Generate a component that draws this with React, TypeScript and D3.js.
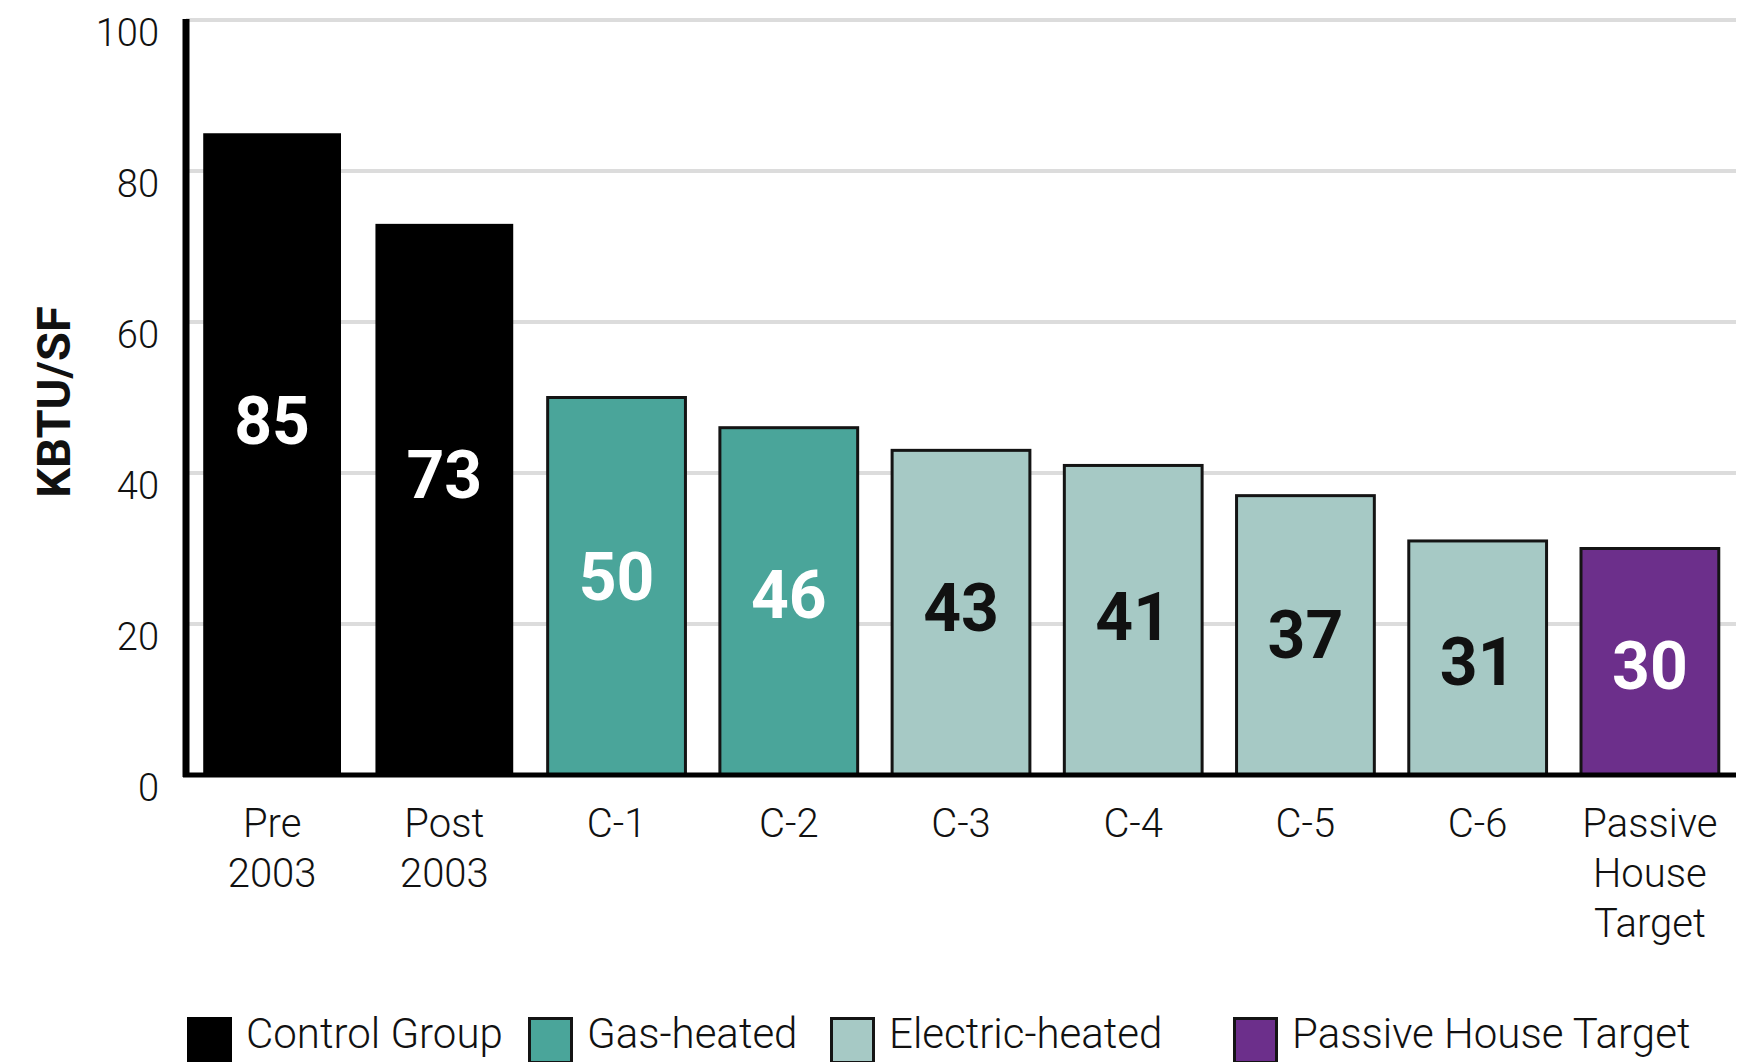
import React from 'react';
import * as d3 from 'd3';

const categories = ['Pre 2003', 'Post 2003', 'C-1', 'C-2', 'C-3', 'C-4', 'C-5', 'C-6', 'Passive House Target'];
const categoryLines = [['Pre', '2003'], ['Post', '2003'], ['C-1'], ['C-2'], ['C-3'], ['C-4'], ['C-5'], ['C-6'], ['Passive', 'House', 'Target']];
const values = [85, 73, 50, 46, 43, 41, 37, 31, 30];
const groups = ['control', 'control', 'gas', 'gas', 'electric', 'electric', 'electric', 'electric', 'passive'];
const yTicks = [0, 20, 40, 60, 80, 100];

const groupNames = ['Control Group', 'Gas-heated', 'Electric-heated', 'Passive House Target'];
const groupKeys = ['control', 'gas', 'electric', 'passive'];

const width = 1756;
const height = 1062;

const marginLeft = 186;
const marginRight = 20;
const marginTop = 20;
const baseline = 775;

const fillColor = d3.scaleOrdinal<string, string>()
    .domain(groupKeys)
    .range(['#000000', '#4aa59a', '#a6c9c5', '#6c2f8b']);

const labelColor = d3.scaleOrdinal<string, string>()
    .domain(groupKeys)
    .range(['#ffffff', '#ffffff', '#111111', '#ffffff']);

// legend squares sit at fixed spots along the bottom, like the original layout
const legendX = [187, 528, 830, 1233];

const font = 'Roboto, "DejaVu Sans", sans-serif';

const App: React.FC = () => {
    const x = d3.scaleBand<string>()
        .domain(categories)
        .range([marginLeft, width - marginRight])
        .paddingInner(0.2)
        .paddingOuter(0.1);

    const y = d3.scaleLinear()
        .domain([0, 100])
        .range([baseline, marginTop]);

    return (
        <svg width={width} height={height} viewBox={`0 0 ${width} ${height}`}
            style={{ position: 'absolute', left: 0, top: 0, background: '#fff' }}>
            {/* gridlines */}
            <g>
                {yTicks.filter(t => t > 0).map(t => (
                    <line key={t} x1={marginLeft} x2={width - marginRight} y1={y(t)} y2={y(t)}
                        stroke="#dcdcdc" strokeWidth={4} />
                ))}
            </g>

            {/* y tick labels */}
            <g fontFamily={font} fontWeight={300} fontSize={38} fill="#111" textAnchor="end">
                {yTicks.map(t => (
                    <text key={t} x={159} y={y(t) + 26}>{t}</text>
                ))}
            </g>

            {/* bars */}
            <g>
                {values.map((v, i) => {
                    const g = groups[i];
                    return (
                        <rect key={categories[i]}
                            x={x(categories[i])!}
                            y={y(v)}
                            width={x.bandwidth()}
                            height={y(0) - y(v)}
                            fill={fillColor(g)}
                            stroke={g === 'control' ? 'none' : '#141414'}
                            strokeWidth={3} />
                    );
                })}
            </g>

            {/* axes */}
            <line x1={marginLeft - 3} x2={width - marginRight} y1={y(0)} y2={y(0)} stroke="#000" strokeWidth={5} />
            <line x1={marginLeft} x2={marginLeft} y1={y(100) - 1} y2={y(0) + 2} stroke="#000" strokeWidth={7} />

            {/* value labels */}
            <g fontFamily={font} fontWeight={700} fontSize={66} textAnchor="middle">
                {values.map((v, i) => (
                    <text key={categories[i]}
                        x={x(categories[i])! + x.bandwidth() / 2}
                        y={y(v * 0.59 - 3.2)}
                        dy="0.36em"
                        fill={labelColor(groups[i])}>{v}</text>
                ))}
            </g>

            {/* x labels */}
            <g fontFamily={font} fontWeight={300} fontSize={40} fill="#111" textAnchor="middle">
                {categoryLines.map((lines, i) => (
                    <text key={categories[i]} x={x(categories[i])! + x.bandwidth() / 2} y={baseline + 62}>
                        {lines.map((l, j) => (
                            <tspan key={j} x={x(categories[i])! + x.bandwidth() / 2} dy={j === 0 ? 0 : 50}>{l}</tspan>
                        ))}
                    </text>
                ))}
            </g>

            {/* y title */}
            <text transform={`translate(70, 402) rotate(-90)`} textAnchor="middle"
                fontFamily={font} fontWeight={700} fontSize={47} fill="#111">KBTU/SF</text>

            {/* legend */}
            <g fontFamily={font} fontWeight={300} fontSize={42} fill="#111">
                {groupKeys.map((k, i) => (
                    <g key={k} transform={`translate(${legendX[i]}, 1017)`}>
                        <rect x={1.5} y={1.5} width={42} height={44} fill={fillColor(k)}
                            stroke={k === 'control' ? '#000' : '#141414'} strokeWidth={3} />
                        <text x={59} y={31}>{groupNames[i]}</text>
                    </g>
                ))}
            </g>
        </svg>
    );
};

export default App;
